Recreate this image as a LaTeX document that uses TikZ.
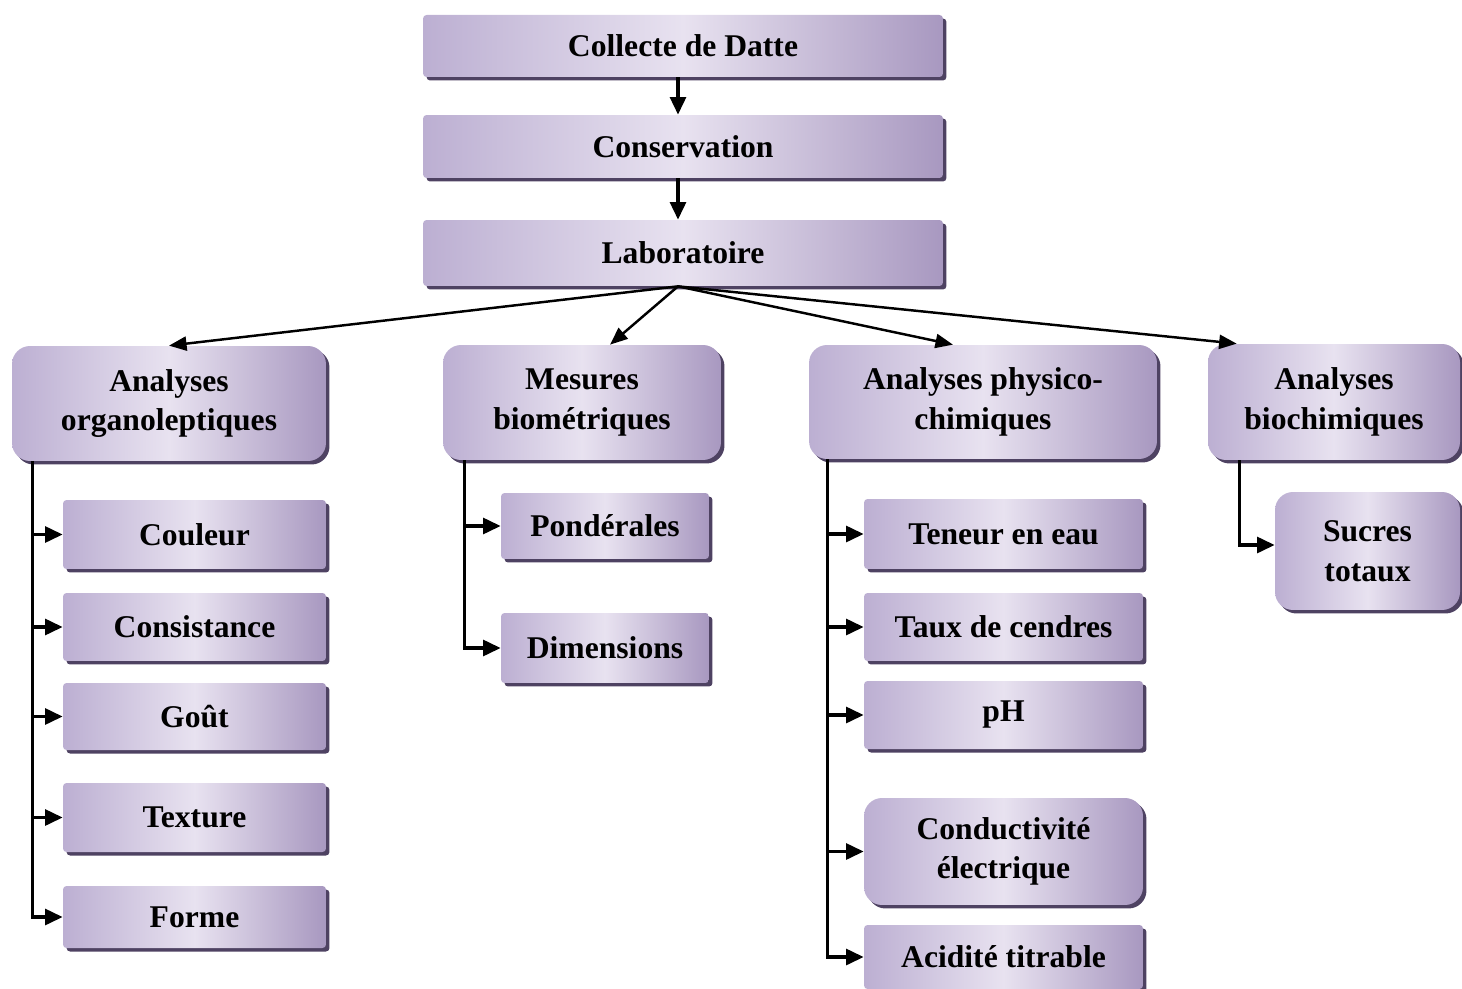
\documentclass[tikz,border=0pt]{standalone}
\usepackage{fontspec}
\setmainfont{Liberation Serif}
\usetikzlibrary{shadows,arrows.meta,calc}
\definecolor{boxL}{HTML}{BCAFD2}
\definecolor{boxM}{HTML}{E8E2F0}
\definecolor{boxR}{HTML}{A898C0}
\definecolor{shadowc}{HTML}{4E4262}
\tikzset{
  box/.style={rectangle, draw=none, left color=boxL, right color=boxR, middle color=boxM,
    drop shadow={shadow xshift=0.07cm, shadow yshift=-0.07cm, fill=shadowc, opacity=1},
    rounded corners=2pt, align=center, inner sep=0pt,
    font=\fontsize{18}{22.5}\selectfont\bfseries},
  rbox/.style={box, rounded corners=0.36cm},
  flow/.style={line width=1.9pt, -{Triangle[length=10pt,width=9pt]}},
  fan/.style={line width=1.4pt, -{Triangle[length=10pt,width=8pt]}},
  branch/.style={line width=1.9pt, -{Triangle[length=10pt,width=9pt]}}
}
\begin{document}
\begin{tikzpicture}[x=0.02cm,y=-0.02cm]
\useasboundingbox (0,0) rectangle (1462,989);
% top chain
\node[box, minimum width=10.4cm, minimum height=1.24cm] (collecte) at (683,46) {Collecte de Datte};
\node[box, minimum width=10.4cm, minimum height=1.26cm] (conserv) at (683,146.5) {Conservation};
\node[box, minimum width=10.4cm, minimum height=1.32cm] (labo) at (683,253) {Laboratoire};
% categories
\node[rbox, minimum width=6.28cm, minimum height=2.3cm] (orga) at (169,403.5) {Analyses\\organoleptiques};
\node[rbox, minimum width=5.56cm, minimum height=2.3cm] (mesures) at (582,402.5) {Mesures\\biométriques};
\node[rbox, minimum width=6.96cm, minimum height=2.28cm] (physico) at (983,402) {Analyses physico-\\chimiques};
\node[rbox, minimum width=5.04cm, minimum height=2.32cm] (bio) at (1334,402) {Analyses\\biochimiques};
% organoleptiques
\node[box, minimum width=5.26cm, minimum height=1.38cm] (couleur) at (194.5,534.5) {Couleur};
\node[box, minimum width=5.26cm, minimum height=1.36cm] (consist) at (194.5,627) {Consistance};
\node[box, minimum width=5.26cm, minimum height=1.34cm] (gout) at (194.5,716.5) {Goût};
\node[box, minimum width=5.26cm, minimum height=1.38cm] (texture) at (194.5,817.5) {Texture};
\node[box, minimum width=5.26cm, minimum height=1.24cm] (forme) at (194.5,917) {Forme};
% biometriques
\node[box, minimum width=4.16cm, minimum height=1.32cm] (ponder) at (605,526) {Pondérales};
\node[box, minimum width=4.16cm, minimum height=1.4cm] (dimens) at (605,648) {Dimensions};
% physico-chimiques
\node[box, minimum width=5.58cm, minimum height=1.4cm] (teneur) at (1003.5,534) {Teneur en eau};
\node[box, minimum width=5.58cm, minimum height=1.36cm] (taux) at (1003.5,627) {Taux de cendres};
\node[box, minimum width=5.58cm, minimum height=1.36cm] (ph) at (1003.5,715) {pH};
\node[rbox, minimum width=5.58cm, minimum height=2.14cm] (conduct) at (1003.5,851.5) {Conductivité\\électrique};
\node[box, minimum width=5.58cm, minimum height=1.28cm] (acid) at (1003.5,957) {Acidité titrable};
% biochimiques
\node[rbox, minimum width=3.7cm, minimum height=2.36cm] (sucres) at (1367.5,551) {Sucres\\totaux};
% connectors
\draw[flow] ($(collecte.south)+(-5,0)$) -- ($(conserv.north)+(-5,0)$);
\draw[flow] ($(conserv.south)+(-5,0)$) -- ($(labo.north)+(-5,0)$);
\coordinate (fanpt) at ($(labo.south)+(-5,0)$);
\draw[fan] (fanpt) -- (orga.north);
\draw[fan] (fanpt) -- ($(mesures.north)+(28,0)$);
\draw[fan] (fanpt) -- ($(physico.north)+(-30,0)$);
\draw[fan] (fanpt) -- ($(bio.north west)+(29,0)$);
% organoleptiques branches
\coordinate (ot) at ($(orga.south west)+(21,0)$);
\foreach \t in {couleur,consist,gout,texture,forme}
  \draw[branch] (ot) |- (\t.west);
\coordinate (mt) at ($(mesures.south west)+(22,0)$);
\foreach \t in {ponder,dimens}
  \draw[branch] (mt) |- (\t.west);
\coordinate (pt) at ($(physico.south west)+(19,0)$);
\foreach \t in {teneur,taux,ph,conduct,acid}
  \draw[branch] (pt) |- (\t.west);
\coordinate (bt) at ($(bio.south west)+(32,0)$);
\draw[branch] (bt) |- ($(sucres.west)+(0,-6)$);
\end{tikzpicture}
\end{document}
